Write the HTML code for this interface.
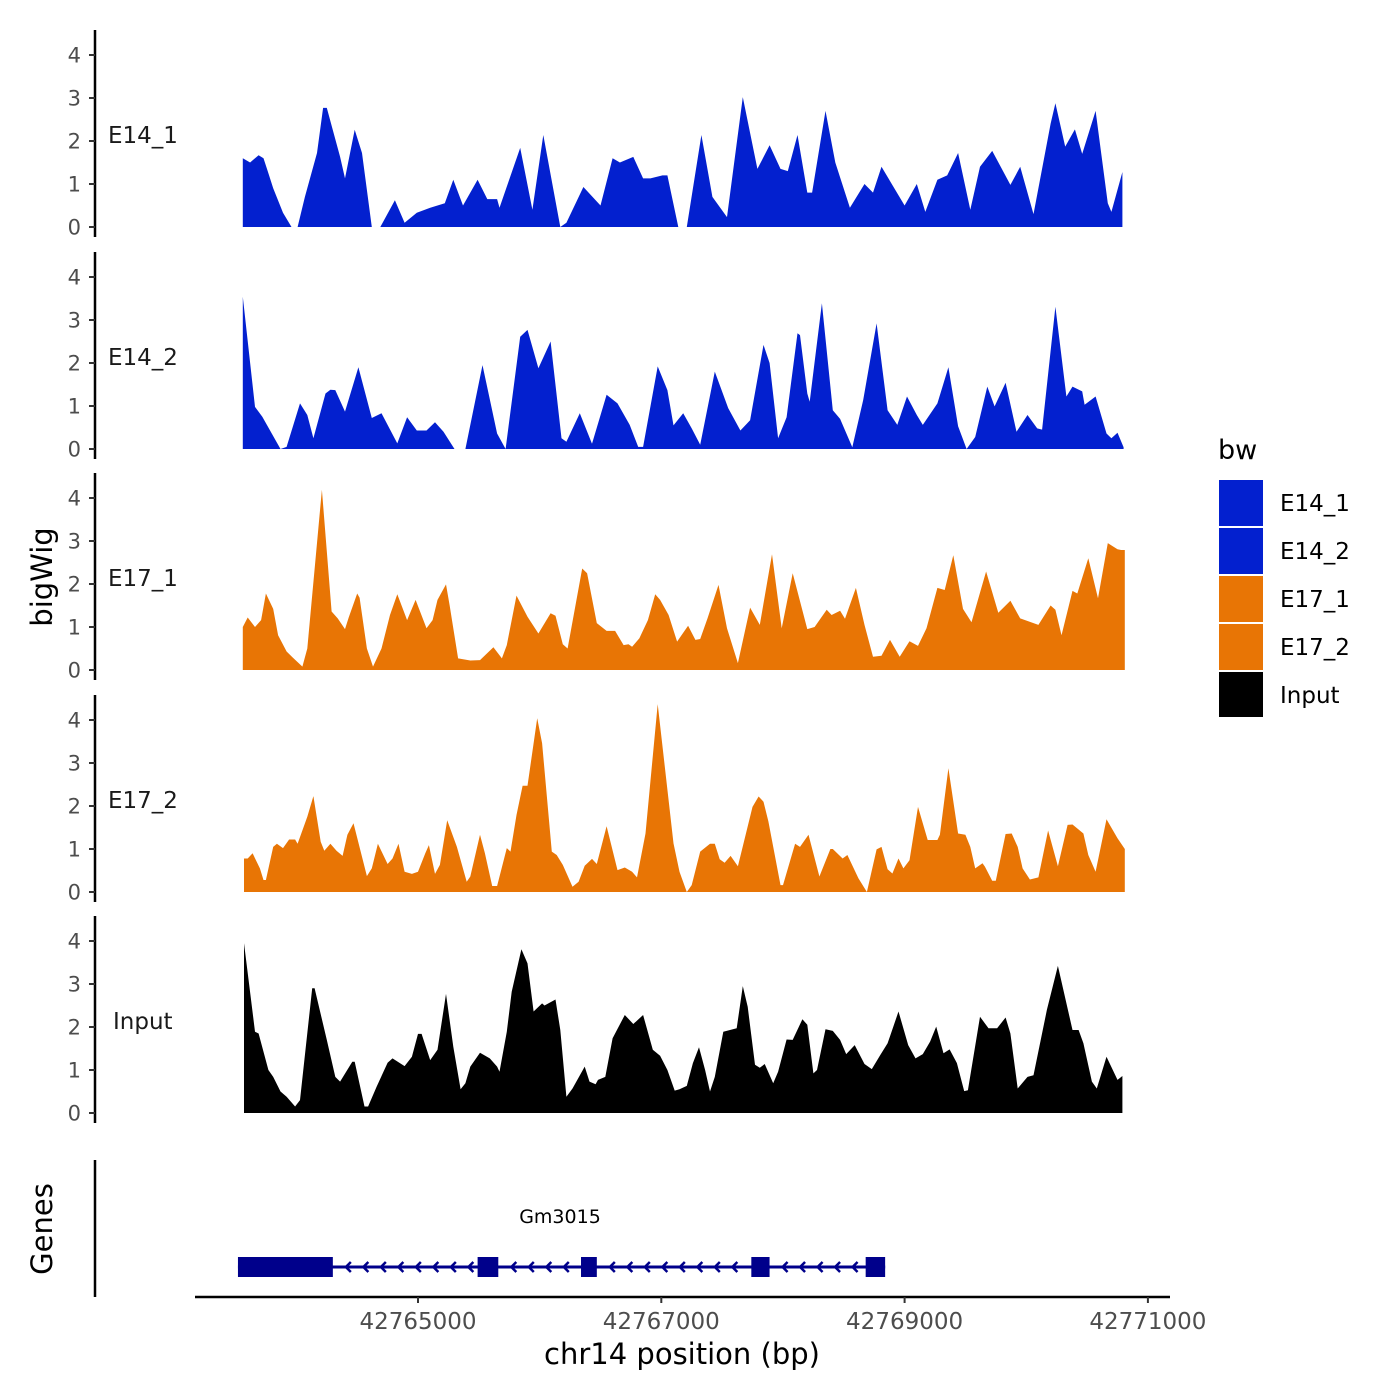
<!DOCTYPE html>
<html><head><meta charset="utf-8"><style>
html,body{margin:0;padding:0;background:#fff;}
svg{display:block;font-family:"DejaVu Sans","Liberation Sans",sans-serif;}
</style></head><body>
<svg id="chart" width="1400" height="1400" viewBox="0 0 1400 1400" xmlns="http://www.w3.org/2000/svg">
<rect width="1400" height="1400" fill="#fff"/>
<g id="tracks"></g>
<g id="genes"></g>
<g id="axes"></g>
<text x="0" y="0" transform="translate(52,577) rotate(-90)" text-anchor="middle" font-size="29" fill="#000">bigWig</text>
<text x="0" y="0" transform="translate(52,1229) rotate(-90)" text-anchor="middle" font-size="29" fill="#000">Genes</text>
<text x="682" y="1364" text-anchor="middle" font-size="29" fill="#000">chr14 position (bp)</text>
<g>
<text x="1218" y="459" font-size="27" fill="#000">bw</text>
<rect x="1219" y="480" width="44" height="46" fill="#0320CF"/>
<rect x="1219" y="528" width="44" height="46" fill="#0320CF"/>
<rect x="1219" y="576" width="44" height="46" fill="#E87505"/>
<rect x="1219" y="624" width="44" height="46" fill="#E87505"/>
<rect x="1219" y="672" width="44" height="45" fill="#000"/>
<text x="1280" y="511" font-size="23">E14_1</text>
<text x="1280" y="559" font-size="23">E14_2</text>
<text x="1280" y="607" font-size="23">E17_1</text>
<text x="1280" y="655" font-size="23">E17_2</text>
<text x="1280" y="703" font-size="23">Input</text>
</g>
</svg>
<script>
const trackNames = ["E14_1","E14_2","E17_1","E17_2","Input"];
const trackColors = ["#0320CF","#0320CF","#E87505","#E87505","#000000"];
const yTicks = [0,1,2,3,4];
const xTicks = [42765000,42767000,42769000,42771000];
const xTickLabels = ["42765000","42767000","42769000","42771000"];

const e14_1_pos = [42763560,42763620,42763690,42763730,42763770,42763810,42763890,42763960,42764010,42764070,42764170,42764220,42764250,42764360,42764400,42764480,42764540,42764620,42764690,42764810,42764890,42764990,42765100,42765220,42765290,42765370,42765490,42765570,42765650,42765670,42765840,42765940,42766030,42766170,42766220,42766360,42766500,42766600,42766660,42766770,42766850,42766910,42767010,42767050,42767140,42767210,42767330,42767420,42767540,42767670,42767790,42767890,42767980,42768040,42768120,42768200,42768240,42768350,42768430,42768550,42768670,42768740,42768810,42769000,42769100,42769170,42769270,42769350,42769440,42769540,42769620,42769720,42769870,42769950,42770060,42770200,42770240,42770320,42770400,42770460,42770570,42770670,42770700,42770790];
const e14_1_val = [1.6,1.5,1.67,1.6,1.25,0.9,0.33,0,0,0.7,1.72,2.77,2.77,1.63,1.13,2.26,1.72,0,0,0.62,0.1,0.33,0.45,0.55,1.1,0.5,1.1,0.65,0.65,0.45,1.84,0.4,2.14,0,0.1,0.93,0.5,1.6,1.5,1.63,1.13,1.13,1.2,1.2,0,0,2.14,0.7,0.23,3.02,1.35,1.9,1.35,1.3,2.14,0.8,0.8,2.7,1.5,0.45,1.0,0.8,1.4,0.5,1.0,0.35,1.1,1.2,1.72,0.4,1.4,1.77,0.98,1.4,0.3,2.4,2.88,1.87,2.27,1.7,2.7,0.55,0.35,1.28];

const e14_2_pos = [42763560,42763660,42763720,42763870,42763920,42764030,42764090,42764140,42764240,42764280,42764320,42764400,42764510,42764620,42764700,42764830,42764910,42764990,42765070,42765140,42765210,42765300,42765390,42765530,42765650,42765720,42765840,42765900,42765990,42766090,42766180,42766220,42766330,42766430,42766550,42766640,42766740,42766810,42766850,42766970,42767050,42767100,42767180,42767250,42767320,42767440,42767550,42767650,42767730,42767840,42767890,42767960,42768030,42768120,42768140,42768200,42768220,42768320,42768410,42768470,42768570,42768660,42768770,42768860,42768940,42769020,42769100,42769150,42769270,42769360,42769440,42769510,42769580,42769680,42769740,42769830,42769920,42770010,42770090,42770130,42770240,42770330,42770380,42770460,42770480,42770570,42770660,42770700,42770750,42770800];
const e14_2_val = [3.54,0.98,0.75,0,0.05,1.06,0.79,0.25,1.29,1.38,1.37,0.87,1.9,0.72,0.83,0.13,0.74,0.43,0.43,0.62,0.4,0,0,1.95,0.36,0,2.61,2.77,1.88,2.5,0.25,0.17,0.83,0.12,1.26,1.06,0.56,0.05,0.05,1.92,1.37,0.55,0.83,0.48,0.1,1.8,0.95,0.43,0.67,2.42,2.0,0.25,0.74,2.69,2.65,1.29,1.1,3.39,0.9,0.7,0.04,1.14,2.92,0.9,0.56,1.22,0.79,0.56,1.06,1.9,0.53,0,0.28,1.45,0.99,1.54,0.4,0.79,0.48,0.45,3.31,1.22,1.45,1.34,1.03,1.22,0.36,0.25,0.38,0.04];

const e17_1_pos = [42763560,42763600,42763660,42763710,42763750,42763810,42763850,42763920,42763970,42764050,42764090,42764210,42764290,42764340,42764400,42764430,42764500,42764520,42764580,42764630,42764700,42764770,42764830,42764910,42764980,42765070,42765120,42765160,42765230,42765260,42765330,42765430,42765510,42765620,42765690,42765730,42765810,42765900,42765990,42766090,42766130,42766190,42766230,42766350,42766390,42766470,42766550,42766620,42766690,42766730,42766760,42766820,42766890,42766950,42766990,42767060,42767130,42767220,42767280,42767320,42767380,42767470,42767540,42767630,42767730,42767810,42767910,42767990,42768080,42768200,42768260,42768360,42768400,42768470,42768510,42768600,42768670,42768740,42768810,42768880,42768960,42769040,42769110,42769180,42769270,42769330,42769400,42769480,42769550,42769670,42769770,42769870,42769950,42770060,42770100,42770200,42770240,42770290,42770380,42770420,42770510,42770590,42770670,42770750,42770780,42770810];
const e17_1_val = [1.0,1.22,1.0,1.16,1.78,1.42,0.81,0.43,0.29,0.08,0.5,4.19,1.36,1.2,0.95,1.22,1.78,1.68,0.5,0.08,0.5,1.28,1.76,1.16,1.63,0.97,1.16,1.63,1.99,1.51,0.27,0.22,0.23,0.53,0.27,0.58,1.73,1.24,0.85,1.32,1.26,0.6,0.5,2.36,2.25,1.09,0.91,0.91,0.58,0.6,0.54,0.74,1.16,1.76,1.63,1.28,0.66,1.03,0.7,0.72,1.2,1.98,0.97,0.16,1.45,1.05,2.69,0.97,2.25,0.95,1.0,1.4,1.28,1.38,1.19,1.91,1.05,0.31,0.33,0.7,0.31,0.67,0.56,0.97,1.91,1.86,2.67,1.42,1.11,2.29,1.33,1.61,1.2,1.09,1.05,1.5,1.4,0.81,1.84,1.78,2.6,1.67,2.95,2.81,2.79,2.79];

const e17_2_pos = [42763570,42763600,42763640,42763700,42763730,42763750,42763810,42763840,42763890,42763940,42763990,42764010,42764090,42764140,42764200,42764230,42764280,42764330,42764380,42764420,42764470,42764580,42764620,42764670,42764750,42764790,42764840,42764890,42764950,42765000,42765060,42765090,42765140,42765180,42765240,42765320,42765400,42765430,42765510,42765550,42765610,42765650,42765730,42765760,42765810,42765860,42765900,42765980,42766020,42766100,42766140,42766190,42766270,42766320,42766370,42766430,42766470,42766550,42766640,42766700,42766760,42766800,42766870,42766970,42767100,42767150,42767210,42767250,42767320,42767400,42767440,42767480,42767520,42767570,42767630,42767750,42767800,42767840,42767880,42767980,42768000,42768100,42768140,42768210,42768300,42768390,42768410,42768490,42768530,42768620,42768690,42768770,42768810,42768860,42768900,42768950,42768990,42769040,42769110,42769190,42769270,42769290,42769360,42769440,42769500,42769540,42769580,42769640,42769660,42769720,42769750,42769830,42769880,42769930,42769970,42770030,42770100,42770180,42770260,42770340,42770380,42770470,42770510,42770570,42770660,42770750,42770810];
const e17_2_val = [0.78,0.78,0.9,0.55,0.28,0.28,1.05,1.12,1.02,1.22,1.22,1.12,1.75,2.23,1.17,0.96,1.12,0.96,0.84,1.33,1.6,0.37,0.55,1.12,0.65,0.78,1.12,0.47,0.42,0.47,0.9,1.09,0.42,0.63,1.67,1.05,0.24,0.36,1.33,0.9,0.14,0.14,1.02,0.94,1.79,2.47,2.47,4.04,3.46,0.94,0.86,0.63,0.12,0.24,0.61,0.77,0.65,1.53,0.51,0.57,0.47,0.34,1.36,4.37,1.13,0.47,0,0.16,0.94,1.12,1.12,0.76,0.68,0.84,0.6,1.98,2.22,2.1,1.64,0.16,0.16,1.12,1.05,1.33,0.36,1.0,1.0,0.78,0.86,0.32,0,0.99,1.05,0.53,0.43,0.78,0.55,0.74,1.98,1.21,1.21,1.33,2.88,1.36,1.33,1.05,0.55,0.67,0.59,0.26,0.26,1.35,1.36,1.05,0.55,0.29,0.34,1.43,0.6,1.56,1.57,1.36,0.86,0.47,1.69,1.25,1.0];

const input_pos = [42763570,42763660,42763690,42763770,42763810,42763870,42763920,42763990,42764030,42764130,42764150,42764250,42764320,42764360,42764460,42764480,42764560,42764590,42764660,42764750,42764790,42764890,42764950,42765000,42765030,42765100,42765160,42765230,42765290,42765350,42765390,42765430,42765510,42765590,42765650,42765670,42765730,42765770,42765850,42765900,42765950,42766020,42766040,42766130,42766170,42766220,42766270,42766370,42766410,42766460,42766480,42766540,42766600,42766700,42766770,42766850,42766930,42766990,42767050,42767110,42767150,42767210,42767260,42767310,42767360,42767400,42767440,42767510,42767620,42767670,42767710,42767770,42767810,42767850,42767920,42767960,42768030,42768080,42768160,42768200,42768250,42768280,42768350,42768410,42768470,42768520,42768590,42768670,42768730,42768800,42768860,42768950,42769030,42769090,42769150,42769210,42769260,42769320,42769370,42769430,42769490,42769520,42769620,42769690,42769760,42769830,42769870,42769930,42770010,42770060,42770170,42770260,42770380,42770430,42770470,42770540,42770580,42770660,42770750,42770790];
const input_val = [3.95,1.89,1.85,1.0,0.84,0.5,0.38,0.15,0.3,2.9,2.9,1.7,0.84,0.73,1.19,1.19,0.15,0.15,0.61,1.17,1.27,1.09,1.31,1.84,1.84,1.23,1.47,2.77,1.54,0.55,0.69,1.08,1.4,1.27,1.08,0.96,1.89,2.82,3.81,3.48,2.36,2.55,2.5,2.64,1.93,0.38,0.57,1.08,0.73,0.67,0.77,0.84,1.74,2.28,2.07,2.28,1.47,1.33,1.0,0.52,0.55,0.63,1.16,1.53,1.0,0.5,0.84,1.89,1.97,2.95,2.47,1.12,1.05,1.14,0.69,0.96,1.71,1.7,2.18,2.05,0.92,1.0,1.95,1.91,1.7,1.37,1.58,1.14,1.02,1.35,1.62,2.36,1.58,1.27,1.37,1.66,2.01,1.39,1.48,1.16,0.51,0.53,2.24,1.97,1.97,2.22,1.85,0.57,0.84,0.88,2.4,3.42,1.93,1.93,1.62,0.73,0.57,1.31,0.77,0.86];

const geneName = "Gm3015";
const geneStart = 42763520;
const geneEnd = 42768840;
const exonStarts = [42763520,42765490,42766340,42767740,42768680];
const exonEnds = [42764300,42765660,42766470,42767890,42768840];

const NS = "http://www.w3.org/2000/svg";
const zeroY = [227,449,670,892,1113];
const unitPx = 43;
function xScale(bp){ return 418 + (bp - 42765000) * 243.3 / 2000; }
function yScale(i, v){ return zeroY[i] - v * unitPx; }
function mk(tag, attrs, parent){ const e=document.createElementNS(NS,tag); for(const k in attrs) e.setAttribute(k,attrs[k]); parent.appendChild(e); return e; }

const tracksG = document.getElementById('tracks');
const axesG = document.getElementById('axes');
const positions = [e14_1_pos,e14_2_pos,e17_1_pos,e17_2_pos,input_pos];
const values = [e14_1_val,e14_2_val,e17_1_val,e17_2_val,input_val];
const labelX = [108,108,108,108,113];

for(let i=0;i<5;i++){
  const p = positions[i], v = values[i];
  let d = "M"+xScale(p[0]).toFixed(1)+","+zeroY[i];
  for(let j=0;j<p.length;j++) d += " L"+xScale(p[j]).toFixed(1)+","+yScale(i,v[j]).toFixed(1);
  d += " L"+xScale(p[p.length-1]).toFixed(1)+","+zeroY[i]+" Z";
  const path = mk('path',{d:d,fill:trackColors[i]},tracksG);
  
  
  const ax = mk('line',{x1:95,x2:95,y1:zeroY[i]-197,y2:zeroY[i]+10,stroke:'#000','stroke-width':2.5},axesG);
  
  
  for(const t of yTicks){
    const ty = yScale(i,t);
    const tk = mk('line',{x1:89,x2:95,y1:ty,y2:ty,stroke:'#333','stroke-width':2},axesG);
    
    
    const tl = mk('text',{x:81,y:ty+7.5,'text-anchor':'end','font-size':21,fill:'#4d4d4d'},axesG);
    
    
    tl.textContent = String(t);
  }
  const lab = mk('text',{x:labelX[i],y:zeroY[i]-84,'font-size':23,fill:'#1a1a1a'},axesG);
  
  
  lab.textContent = trackNames[i];
}

const gAx = mk('line',{x1:95,x2:95,y1:1160,y2:1297,stroke:'#000','stroke-width':2.5},axesG);


const xAx = mk('line',{x1:195,x2:1170,y1:1297,y2:1297,stroke:'#000','stroke-width':2.5},axesG);


for(let k=0;k<xTicks.length;k++){
  const tx = xScale(xTicks[k]);
  const tk = mk('line',{x1:tx,x2:tx,y1:1297,y2:1303,stroke:'#333','stroke-width':2},axesG);
  
  
  const tl = mk('text',{x:tx,y:1329,'text-anchor':'middle','font-size':23,fill:'#4d4d4d'},axesG);
  
  
  tl.textContent = xTickLabels[k];
}

const genesG = document.getElementById('genes');
const gc = "#00008B", gy = 1267;
const gl = mk('line',{x1:xScale(geneStart),x2:xScale(geneEnd),y1:gy,y2:gy,stroke:gc,'stroke-width':3},genesG);


for(let k=0;k<exonStarts.length;k++){
  const x0 = xScale(exonStarts[k]), x1 = xScale(exonEnds[k]);
  const r = mk('rect',{x:x0,y:gy-10,width:x1-x0,height:20,fill:gc},genesG);
  
  
  if(k<exonStarts.length-1){
    const a = x1, b = xScale(exonStarts[k+1]);
    for(let cx=a+14; cx<b-4; cx+=17.5){
      const c = mk('path',{d:"M"+(cx+4)+","+(gy-5)+" L"+(cx-1)+","+gy+" L"+(cx+4)+","+(gy+5),fill:'none',stroke:gc,'stroke-width':2.5},genesG);
      
      
    }
  }
}
const gt = mk('text',{x:560,y:1223,'text-anchor':'middle','font-size':19,fill:'#000'},genesG);


gt.textContent = geneName;
</script>
</body></html>
